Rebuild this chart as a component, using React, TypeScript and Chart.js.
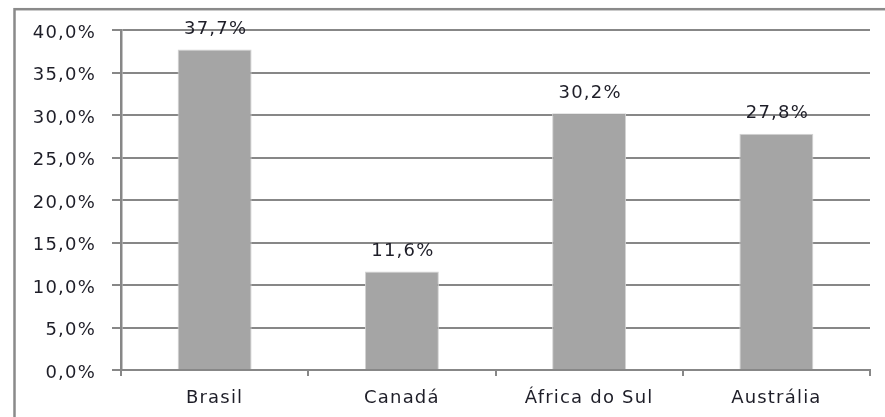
import React, { useEffect, useRef } from "react";
import { Chart, registerables } from "chart.js";

Chart.register(...registerables);

const categories = ["Brasil", "Canadá", "África do Sul", "Austrália"];
const values = [37.7, 11.6, 30.2, 27.8];
const yMin = 0;
const yMax = 40;
const yStep = 5;

const fmt = (v: number) => v.toFixed(1).replace(".", ",") + "%";

const TEXT_COLOR = "#1e1e28";
const LINE_COLOR = "#878787";
const FONT_FAMILY = "'DejaVu Sans', Verdana, sans-serif";
const FONT_SIZE = 18;
const SPACING = "1.2px";

const framePlugin = {
  id: "frame",
  beforeDraw(chart: any) {
    const ctx = chart.ctx;
    (ctx as any).letterSpacing = SPACING;
    ctx.save();
    ctx.fillStyle = "#ffffff";
    ctx.fillRect(0, 0, chart.width, chart.height);
    ctx.strokeStyle = "#8a8a8a";
    ctx.lineWidth = 2.5;
    ctx.strokeRect(14.5, 9.2, chart.width + 20, chart.height + 20);
    ctx.restore();
  },
};

const labelPlugin = {
  id: "barLabels",
  afterDatasetsDraw(chart: any) {
    const ctx = chart.ctx;
    const meta = chart.getDatasetMeta(0);
    ctx.save();
    (ctx as any).letterSpacing = SPACING;
    ctx.font = `${FONT_SIZE}px ${FONT_FAMILY}`;
    ctx.fillStyle = TEXT_COLOR;
    ctx.textAlign = "center";
    ctx.textBaseline = "middle";
    meta.data.forEach((bar: any, i: number) => {
      ctx.fillText(fmt(values[i]), bar.x + 1, bar.y - 20);
    });
    ctx.restore();
  },
};

export default function App() {
  const ref = useRef<HTMLCanvasElement | null>(null);

  useEffect(() => {
    if (!ref.current) return;
    const chart = new Chart(ref.current, {
      type: "bar",
      data: {
        labels: categories,
        datasets: [
          {
            data: values,
            backgroundColor: "#a5a5a5",
            borderColor: "#d4d4d4",
            borderWidth: { left: 1, right: 1, top: 1, bottom: 0 },
            categoryPercentage: 1,
            barPercentage: 0.395,
          },
        ],
      },
      options: {
        responsive: false,
        animation: false,
        devicePixelRatio: 1,
        layout: { padding: { top: 30, right: 15, bottom: 0, left: 0 } },
        plugins: {
          legend: { display: false },
          tooltip: { enabled: false },
        },
        scales: {
          x: {
            afterFit: (scale: any) => {
              scale.height = 47;
            },
            grid: {
              offset: true,
              drawOnChartArea: false,
              drawTicks: true,
              tickLength: 6,
              color: LINE_COLOR,
              lineWidth: 2,
            },
            border: { display: true, color: LINE_COLOR, width: 2 },
            ticks: {
              color: TEXT_COLOR,
              font: { family: FONT_FAMILY, size: FONT_SIZE },
              padding: 12,
              maxRotation: 0,
              autoSkip: false,
            },
          },
          y: {
            min: yMin,
            max: yMax,
            afterFit: (scale: any) => {
              scale.width = 121;
            },
            grid: {
              color: LINE_COLOR,
              lineWidth: 2,
              drawTicks: true,
              tickLength: 9,
            },
            border: { display: true, color: LINE_COLOR, width: 2.5 },
            ticks: {
              stepSize: yStep,
              color: TEXT_COLOR,
              font: { family: FONT_FAMILY, size: FONT_SIZE },
              padding: 16,
              labelOffset: 3,
              callback: (v: any) => fmt(Number(v)),
            },
          },
        },
      },
      plugins: [framePlugin, labelPlugin],
    });
    return () => chart.destroy();
  }, []);

  return (
    <div style={{ position: "fixed", left: 0, top: 0, width: 885, height: 417, background: "#fff" }}>
      <canvas ref={ref} width={885} height={417} style={{ display: "block" }} />
    </div>
  );
}
